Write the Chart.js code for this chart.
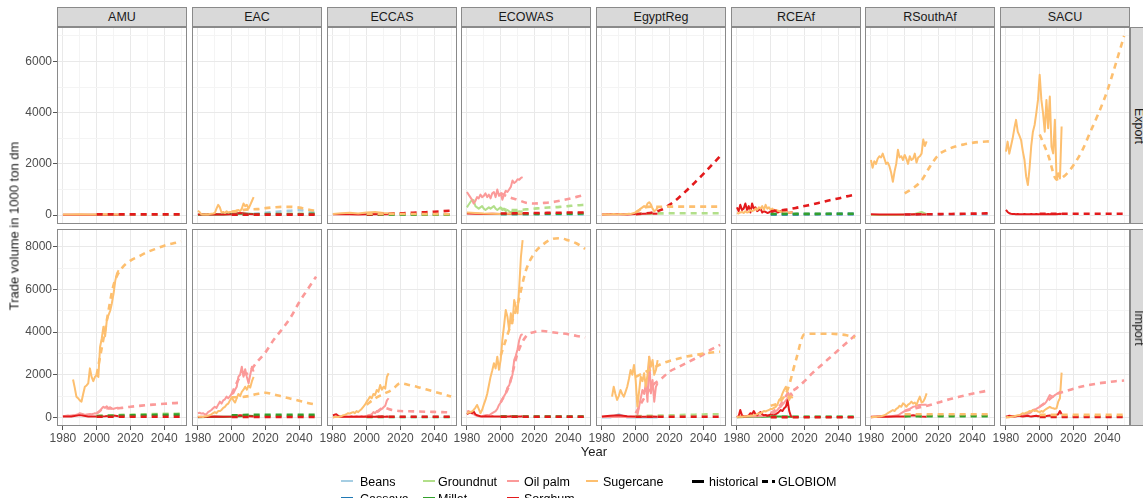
<!DOCTYPE html>
<html><head><meta charset="utf-8">
<script src="https://cdn.jsdelivr.net/npm/chart.js@4.4.0/dist/chart.umd.min.js"></script>
<style>
html,body{margin:0;padding:0;background:#fff;}
body{width:1143px;height:498px;overflow:hidden;position:relative;font-family:"Liberation Sans",Arial,sans-serif;}
canvas{position:absolute;}
.strip{position:absolute;background:#d9d9d9;border:1px solid #8a8a8a;box-sizing:border-box;color:#1a1a1a;font-size:12.5px;text-align:center;line-height:18px;}
.rstrip{position:absolute;background:#d9d9d9;border:1px solid #8a8a8a;box-sizing:border-box;}
.rlab{position:absolute;left:calc(50% - 2px);top:50%;transform:translate(-50%,-50%) rotate(90deg);color:#1a1a1a;font-size:12.5px;white-space:nowrap;}
.t{position:absolute;white-space:nowrap;color:#1a1a1a;font-weight:normal;}
.key{position:absolute;height:0;}
.lt{position:absolute;font-size:12.5px;color:#000;white-space:nowrap;transform:translateY(-50%);}
</style></head><body>
<script>
// ---------- categories ----------
const REGIONS = ["AMU","EAC","ECCAS","ECOWAS","EgyptReg","RCEAf","RSouthAf","SACU"];
const FLOWS = ["Export","Import"];
const CROPS = ["Beans","Cassava","Groundnut","Millet","Oil palm","Sorghum","Sugercane"];
const CROP_COLORS = ["#a6cee3","#1f78b4","#b2df8a","#33a02c","#fb9a99","#e31a1c","#fdbf6f"];
// ---------- years ----------
const HY = [1980,1981,1982,1983,1984,1985,1986,1987,1988,1989,1990,1991,1992,1993,1994,1995,1996,1997,1998,1999,2000,2001,2002,2003,2004,2005,2006,2007,2008,2009,2010,2011,2012,2013];
const HS = [1980,1985,1990,1995,2000,2005,2010,2013];
const GY = [2000,2005,2010,2015,2020,2025,2030,2035,2040,2045,2050];
// ---------- tick labels ----------
const X_TICKS = [1980,1990,2000,2010,2020,2030,2040,2050];
const Y_TICKS_EXPORT = [0,1000,2000,3000,4000,5000,6000,7000];
const Y_TICKS_IMPORT = [0,1000,2000,3000,4000,5000,6000,7000,8000];

// ---------- AMU ----------
const AMU_ex_Sug_h = [20,25,30,20,25,30,25,20];
const AMU_ex_Sor_h = [10,10,15,10,10,15,10,10];
const AMU_ex_Gro_g = [10,10,10,10,10,10,10,10,10,10,10];
const AMU_ex_Sor_g = [25,25,25,25,25,25,25,25,25,25,25];
const AMU_im_Oil_h = [60,70,80,90,80,90,100,110,130,150,200,180,150,120,140,150,160,150,170,200,180,250,300,420,500,450,520,430,480,420,400,430,450,460];
const AMU_im_Sug_h = [null,null,null,null,null,null,1780,1400,975,900,800,740,1100,1440,1500,1600,2300,1900,1700,1900,2000,1900,3300,3700,4250,3800,4550,4800,5000,5350,5800,6400,6750,6900];
const AMU_im_Sor_h = [40,50,110,50,40,60,90,60];
const AMU_im_Gro_g = [80,90,100,120,130,140,150,160,170,175,180];
const AMU_im_Mil_g = [60,70,80,90,100,110,115,120,125,130,135];
const AMU_im_Oil_g = [200,430,420,450,500,540,580,610,640,670,690];
const AMU_im_Sor_g = [30,30,30,30,30,30,30,30,30,30,30];
const AMU_im_Sug_g = [2000,4100,6200,7000,7350,7550,7750,7900,8050,8150,8250];
// ---------- EAC ----------
const EAC_ex_Mil_h = [10,20,30,20,40,60,50,40];
const EAC_ex_Sor_h = [20,20,30,20,30,80,40,30];
const EAC_ex_Sug_h = [170,120,30,20,20,30,20,40,50,60,80,250,400,300,100,120,80,150,100,120,130,150,100,180,200,150,250,450,350,400,250,400,550,700];
const EAC_ex_Bea_g = [20,30,40,60,90,120,150,170,190,150,110];
const EAC_ex_Mil_g = [20,25,30,30,35,35,40,40,40,45,45];
const EAC_ex_Sor_g = [15,15,15,15,15,15,15,15,15,15,15];
const EAC_ex_Sug_g = [130,180,220,230,270,300,320,320,290,220,160];
const EAC_im_Mil_h = [10,20,30,30,40,60,80,70];
const EAC_im_Oil_h = [200,220,180,200,150,150,250,300,350,430,500,450,600,740,650,800,850,975,900,1000,1100,1130,1300,1440,1910,2000,2380,1910,2260,1900,1600,2000,2380,2150];
const EAC_im_Sor_h = [20,30,40,30,40,100,60,40];
const EAC_im_Sug_h = [50,30,40,20,50,60,80,100,150,200,250,200,300,300,350,450,500,600,650,800,950,800,700,900,1100,1000,1200,1300,1440,1300,1500,1400,1700,1900];
const EAC_im_Gro_g = [60,70,80,80,80,80,80,80,80,80,80];
const EAC_im_Mil_g = [100,110,120,120,120,120,120,120,120,120,120];
const EAC_im_Oil_g = [1100,1900,2100,2600,3050,3650,4150,4700,5400,6000,6600];
const EAC_im_Sor_g = [20,20,20,20,20,20,20,20,20,20,20];
const EAC_im_Sug_g = [950,950,1000,1100,1160,1080,980,880,780,680,600];
// ---------- ECCAS ----------
const ECCAS_ex_Sor_h = [30,40,30,20,30,40,30,30];
const ECCAS_ex_Sug_h = [40,70,90,60,100,120,80,70];
const ECCAS_ex_Bea_g = [10,10,15,15,20,20,20,25,25,25,25];
const ECCAS_ex_Mil_g = [10,10,10,10,10,10,10,10,10,10,10];
const ECCAS_ex_Sor_g = [20,30,40,60,70,80,100,110,130,150,170];
const ECCAS_ex_Sug_g = [50,50,45,45,40,40,40,35,35,35,30];
const ECCAS_im_Oil_h = [10,20,20,30,20,30,20,30,40,30,30,40,30,40,30,40,50,40,50,60,60,80,100,150,250,200,300,280,350,400,480,550,800,900];
const ECCAS_im_Sor_h = [100,130,150,80,40,30,30,40,30,30,30,40,30,30,40,30,30,40,30,30,40,30,30,40,30,30,40,30,30,40,30,30,40,30];
const ECCAS_im_Sug_h = [0,20,30,20,40,60,100,120,150,200,180,220,250,200,300,250,330,400,500,600,740,850,975,900,1100,1050,1290,1200,1520,1300,1440,1350,1910,2070];
const ECCAS_im_Mil_g = [20,20,20,20,20,20,20,20,20,20,20];
const ECCAS_im_Oil_g = [60,200,450,350,300,290,280,270,260,250,240];
const ECCAS_im_Sor_g = [30,30,30,30,30,30,30,30,30,30,30];
const ECCAS_im_Sug_g = [600,900,1100,1300,1600,1520,1430,1320,1210,1100,980];
// ---------- ECOWAS ----------
const ECOWAS_ex_Gro_h = [300,400,500,600,580,350,300,250,300,350,250,200,250,300,250,300,350,250,200,250,300,200,250,150,200,150,100,150,120,150,130,150,140,150];
const ECOWAS_ex_Oil_h = [900,800,700,600,450,550,700,650,800,700,750,850,700,800,650,850,900,700,1000,750,850,600,800,950,900,1000,1100,1350,1250,1300,1400,1380,1450,1480];
const ECOWAS_ex_Sor_h = [60,50,40,50,40,50,40,50];
const ECOWAS_ex_Sug_h = [100,80,60,50,40,50,60,50];
const ECOWAS_ex_Bea_g = [10,10,10,10,10,10,10,10,10,10,10];
const ECOWAS_ex_Gro_g = [250,200,200,220,250,280,300,320,350,380,400];
const ECOWAS_ex_Mil_g = [40,40,40,45,45,50,50,50,55,55,60];
const ECOWAS_ex_Oil_g = [850,700,600,480,450,470,500,560,630,710,790];
const ECOWAS_ex_Sor_g = [60,60,70,70,80,80,90,90,100,100,100];
const ECOWAS_im_Oil_h = [270,300,250,200,150,100,80,60,50,60,80,100,120,100,150,200,250,300,400,585,700,850,1000,1130,1400,1500,1755,2000,2690,2900,3200,3630,3860,3900];
const ECOWAS_im_Sor_h = [150,200,250,200,280,150,100,80,60,50,50,60,50,40,50,60,50,40,50,50,40,50,60,50,40,50,60,50,40,50,50,40,50,60];
const ECOWAS_im_Sug_h = [200,230,260,280,350,450,585,400,200,350,600,820,1100,1500,1900,2200,2540,2300,2850,2230,2700,3630,4300,5035,4720,4100,4880,4410,5500,5200,4880,6130,7530,8310];
const ECOWAS_im_Gro_g = [30,30,30,30,30,30,30,30,30,30,30];
const ECOWAS_im_Mil_g = [40,40,40,40,40,40,40,40,40,40,40];
const ECOWAS_im_Oil_g = [700,1500,3000,3800,4000,4050,4000,3950,3900,3820,3750];
const ECOWAS_im_Sor_g = [30,30,30,30,30,30,30,30,30,30,30];
const ECOWAS_im_Sug_g = [2900,4100,5300,6900,7700,8100,8350,8400,8300,8150,7900];
// ---------- EgyptReg ----------
const EgyptReg_ex_Sor_h = [20,30,30,20,40,50,60,50];
const EgyptReg_ex_Sug_h = [20,20,30,20,30,20,30,40,30,20,30,40,30,20,30,40,50,40,60,80,100,150,200,250,300,350,300,450,500,420,250,150,200,300];
const EgyptReg_ex_Gro_g = [40,50,60,65,70,70,70,70,70,70,70];
const EgyptReg_ex_Sor_g = [30,60,100,200,400,650,950,1270,1600,1950,2300];
const EgyptReg_ex_Sug_g = [100,300,330,320,330,330,330,330,330,330,330];
const EgyptReg_im_Bea_h = [0,0,150,0,0,0,0,0];
const EgyptReg_im_Oil_h = [20,20,30,20,20,30,20,20,30,20,20,30,20,20,30,20,20,30,20,20,30,100,500,900,1290,1100,1600,740,2850,1130,1755,740,1440,1600];
const EgyptReg_im_Sor_h = [50,80,100,60,40,30,40,30];
const EgyptReg_im_Sug_h = [null,null,null,null,null,null,975,1440,1100,820,1000,1290,1100,975,1200,1440,1800,2225,2000,2460,1750,500,1200,1910,1700,2070,1440,2000,2850,2380,2690,2000,2225,2690];
const EgyptReg_im_Gro_g = [60,70,80,90,100,110,120,130,140,150,150];
const EgyptReg_im_Oil_g = [200,900,1500,1800,2150,2350,2550,2750,2950,3200,3400];
const EgyptReg_im_Sor_g = [30,30,30,30,30,30,30,30,30,30,30];
const EgyptReg_im_Sug_g = [1900,2100,2300,2500,2650,2750,2850,2920,2990,3040,3080];
// ---------- RCEAf ----------
const RCEAf_ex_Sor_h = [300,150,400,200,250,450,200,350,100,450,250,300,150,200,250,100,150,120,80,100,150,100,200,150,100,120,150,100,80,120,100,90,100,110];
const RCEAf_ex_Sug_h = [80,60,100,120,80,150,100,120,200,150,180,250,200,300,250,350,200,400,250,300,200,250,150,200,180,150,120,150,100,120,100,90,100,110];
const RCEAf_ex_Bea_g = [40,40,45,45,50,50,50,50,55,55,55];
const RCEAf_ex_Cas_g = [20,20,25,25,30,30,30,35,35,35,35];
const RCEAf_ex_Mil_g = [40,40,40,45,45,45,50,50,50,50,50];
const RCEAf_ex_Sor_g = [150,180,220,280,350,420,500,580,650,730,800];
const RCEAf_im_Mil_h = [10,20,30,30,40,40,30,30];
const RCEAf_im_Oil_h = [50,40,60,50,40,50,60,50,40,50,60,50,60,70,60,80,70,80,90,100,120,150,200,300,350,450,500,600,700,800,900,1000,1130,1000];
const RCEAf_im_Sor_h = [0,50,350,100,50,40,60,100,200,150,300,150,100,200,250,150,100,120,80,100,150,120,100,150,200,273,350,300,430,500,800,300,50,30];
const RCEAf_im_Sug_h = [20,30,40,30,50,40,60,80,70,90,100,120,150,200,180,250,300,280,320,350,400,400,450,500,600,820,900,1130,1300,1440,1130,820,1000,900];
const RCEAf_im_Gro_g = [20,20,20,20,20,20,20,20,20,20,20];
const RCEAf_im_Mil_g = [30,30,30,30,30,30,30,30,30,30,30];
const RCEAf_im_Oil_g = [200,500,1100,1350,1700,2100,2450,2800,3150,3500,3850];
const RCEAf_im_Sor_g = [10,10,10,10,10,10,10,10,10,10,10];
const RCEAf_im_Sug_g = [550,700,1300,2700,3900,3920,3920,3920,3900,3850,3750];
// ---------- RSouthAf ----------
const RSouthAf_ex_Gro_h = [0,0,0,0,10,20,120,30];
const RSouthAf_ex_Sor_h = [30,20,20,25,20,30,25,20];
const RSouthAf_ex_Sug_h = [2150,1850,2100,2000,2200,2300,2250,2400,2200,2000,2050,1900,1650,1300,1700,2000,2550,2250,2300,2150,2350,2200,2000,2300,2150,2200,2400,2050,2250,2300,2400,2950,2700,2880];
const RSouthAf_ex_Bea_g = [10,10,15,15,15,20,20,20,20,25,25];
const RSouthAf_ex_Sor_g = [20,25,30,30,35,40,45,50,55,60,70];
const RSouthAf_ex_Sug_g = [850,1050,1350,1900,2350,2550,2680,2760,2820,2860,2880];
const RSouthAf_im_Oil_h = [0,10,20,20,30,30,40,40,50,50,50,60,60,70,80,90,100,150,200,250,300,350,380,400,450,500,520,550,570,585,590,600,600,600];
const RSouthAf_im_Sor_h = [30,40,30,40,50,100,40,30];
const RSouthAf_im_Sug_h = [0,20,30,20,40,50,60,80,100,150,200,250,300,350,300,400,450,550,500,660,600,500,600,650,740,650,700,585,800,975,700,740,900,1130];
const RSouthAf_im_Gro_g = [80,80,80,80,80,80,80,80,80,80,80];
const RSouthAf_im_Mil_g = [60,60,60,60,60,60,60,60,60,60,60];
const RSouthAf_im_Oil_g = [300,400,500,580,700,820,920,1020,1110,1190,1270];
const RSouthAf_im_Sug_g = [150,150,150,150,150,150,150,150,150,150,150];
// ---------- SACU ----------
const SACU_ex_Sor_h = [200,120,70,50,40,40,30,40,30,30,30,40,30,30,30,40,30,30,40,30,30,30,40,30,30,40,30,40,30,40,30,40,50,40];
const SACU_ex_Sug_h = [2480,2870,2400,2700,3000,3390,3720,3260,3100,2930,2500,2150,1500,1170,1830,2700,3260,3520,3980,4500,5480,4500,3980,3260,4500,3390,4630,2670,2410,3720,1370,1630,1430,3460];
const SACU_ex_Sor_g = [50,50,50,50,50,50,50,50,50,50,50];
const SACU_ex_Sug_g = [3150,2350,1400,1550,1950,2500,3250,4000,4850,5900,7000];
const SACU_im_Oil_h = [0,10,20,30,40,50,60,70,80,90,100,120,150,180,200,250,350,380,400,450,500,550,600,650,740,900,1050,1000,975,1050,1100,1130,1210,1200];
const SACU_im_Sor_h = [50,60,80,70,60,50,60,70,80,60,50,60,70,80,60,50,60,70,80,60,70,80,60,50,70,80,90,70,80,100,120,150,300,150];
const SACU_im_Sug_h = [0,20,10,30,50,60,80,100,100,150,200,180,220,250,300,280,350,300,320,280,250,300,270,350,400,450,500,450,430,400,430,740,900,2100];
const SACU_im_Gro_g = [40,40,40,40,40,40,40,40,40,40,40];
const SACU_im_Oil_g = [500,800,1100,1220,1350,1450,1530,1600,1650,1700,1730];
const SACU_im_Sor_g = [20,20,20,20,20,20,20,20,20,20,20];
const SACU_im_Sug_g = [120,120,120,120,120,120,120,120,120,120,120];

// registry: region, flow, crop, kind (h = historical, g = GLOBIOM), years, values
const SERIES = [
["AMU","Export","Sugercane","h",HS,AMU_ex_Sug_h],["AMU","Export","Sorghum","h",HS,AMU_ex_Sor_h],
["AMU","Export","Groundnut","g",GY,AMU_ex_Gro_g],["AMU","Export","Sorghum","g",GY,AMU_ex_Sor_g],
["AMU","Import","Oil palm","h",HY,AMU_im_Oil_h],["AMU","Import","Sugercane","h",HY,AMU_im_Sug_h],["AMU","Import","Sorghum","h",HS,AMU_im_Sor_h],
["AMU","Import","Groundnut","g",GY,AMU_im_Gro_g],["AMU","Import","Millet","g",GY,AMU_im_Mil_g],["AMU","Import","Oil palm","g",GY,AMU_im_Oil_g],["AMU","Import","Sorghum","g",GY,AMU_im_Sor_g],["AMU","Import","Sugercane","g",GY,AMU_im_Sug_g],
["EAC","Export","Millet","h",HS,EAC_ex_Mil_h],["EAC","Export","Sorghum","h",HS,EAC_ex_Sor_h],["EAC","Export","Sugercane","h",HY,EAC_ex_Sug_h],
["EAC","Export","Beans","g",GY,EAC_ex_Bea_g],["EAC","Export","Millet","g",GY,EAC_ex_Mil_g],["EAC","Export","Sorghum","g",GY,EAC_ex_Sor_g],["EAC","Export","Sugercane","g",GY,EAC_ex_Sug_g],
["EAC","Import","Millet","h",HS,EAC_im_Mil_h],["EAC","Import","Oil palm","h",HY,EAC_im_Oil_h],["EAC","Import","Sorghum","h",HS,EAC_im_Sor_h],["EAC","Import","Sugercane","h",HY,EAC_im_Sug_h],
["EAC","Import","Groundnut","g",GY,EAC_im_Gro_g],["EAC","Import","Millet","g",GY,EAC_im_Mil_g],["EAC","Import","Oil palm","g",GY,EAC_im_Oil_g],["EAC","Import","Sorghum","g",GY,EAC_im_Sor_g],["EAC","Import","Sugercane","g",GY,EAC_im_Sug_g],
["ECCAS","Export","Sorghum","h",HS,ECCAS_ex_Sor_h],["ECCAS","Export","Sugercane","h",HS,ECCAS_ex_Sug_h],
["ECCAS","Export","Beans","g",GY,ECCAS_ex_Bea_g],["ECCAS","Export","Millet","g",GY,ECCAS_ex_Mil_g],["ECCAS","Export","Sorghum","g",GY,ECCAS_ex_Sor_g],["ECCAS","Export","Sugercane","g",GY,ECCAS_ex_Sug_g],
["ECCAS","Import","Oil palm","h",HY,ECCAS_im_Oil_h],["ECCAS","Import","Sorghum","h",HY,ECCAS_im_Sor_h],["ECCAS","Import","Sugercane","h",HY,ECCAS_im_Sug_h],
["ECCAS","Import","Millet","g",GY,ECCAS_im_Mil_g],["ECCAS","Import","Oil palm","g",GY,ECCAS_im_Oil_g],["ECCAS","Import","Sorghum","g",GY,ECCAS_im_Sor_g],["ECCAS","Import","Sugercane","g",GY,ECCAS_im_Sug_g],
["ECOWAS","Export","Groundnut","h",HY,ECOWAS_ex_Gro_h],["ECOWAS","Export","Oil palm","h",HY,ECOWAS_ex_Oil_h],["ECOWAS","Export","Sorghum","h",HS,ECOWAS_ex_Sor_h],["ECOWAS","Export","Sugercane","h",HS,ECOWAS_ex_Sug_h],
["ECOWAS","Export","Beans","g",GY,ECOWAS_ex_Bea_g],["ECOWAS","Export","Groundnut","g",GY,ECOWAS_ex_Gro_g],["ECOWAS","Export","Millet","g",GY,ECOWAS_ex_Mil_g],["ECOWAS","Export","Oil palm","g",GY,ECOWAS_ex_Oil_g],["ECOWAS","Export","Sorghum","g",GY,ECOWAS_ex_Sor_g],
["ECOWAS","Import","Oil palm","h",HY,ECOWAS_im_Oil_h],["ECOWAS","Import","Sorghum","h",HY,ECOWAS_im_Sor_h],["ECOWAS","Import","Sugercane","h",HY,ECOWAS_im_Sug_h],
["ECOWAS","Import","Groundnut","g",GY,ECOWAS_im_Gro_g],["ECOWAS","Import","Millet","g",GY,ECOWAS_im_Mil_g],["ECOWAS","Import","Oil palm","g",GY,ECOWAS_im_Oil_g],["ECOWAS","Import","Sorghum","g",GY,ECOWAS_im_Sor_g],["ECOWAS","Import","Sugercane","g",GY,ECOWAS_im_Sug_g],
["EgyptReg","Export","Sorghum","h",HS,EgyptReg_ex_Sor_h],["EgyptReg","Export","Sugercane","h",HY,EgyptReg_ex_Sug_h],
["EgyptReg","Export","Groundnut","g",GY,EgyptReg_ex_Gro_g],["EgyptReg","Export","Sorghum","g",GY,EgyptReg_ex_Sor_g],["EgyptReg","Export","Sugercane","g",GY,EgyptReg_ex_Sug_g],
["EgyptReg","Import","Beans","h",HS,EgyptReg_im_Bea_h],["EgyptReg","Import","Oil palm","h",HY,EgyptReg_im_Oil_h],["EgyptReg","Import","Sorghum","h",HS,EgyptReg_im_Sor_h],["EgyptReg","Import","Sugercane","h",HY,EgyptReg_im_Sug_h],
["EgyptReg","Import","Groundnut","g",GY,EgyptReg_im_Gro_g],["EgyptReg","Import","Oil palm","g",GY,EgyptReg_im_Oil_g],["EgyptReg","Import","Sorghum","g",GY,EgyptReg_im_Sor_g],["EgyptReg","Import","Sugercane","g",GY,EgyptReg_im_Sug_g],
["RCEAf","Export","Sorghum","h",HY,RCEAf_ex_Sor_h],["RCEAf","Export","Sugercane","h",HY,RCEAf_ex_Sug_h],
["RCEAf","Export","Beans","g",GY,RCEAf_ex_Bea_g],["RCEAf","Export","Cassava","g",GY,RCEAf_ex_Cas_g],["RCEAf","Export","Millet","g",GY,RCEAf_ex_Mil_g],["RCEAf","Export","Sorghum","g",GY,RCEAf_ex_Sor_g],
["RCEAf","Import","Millet","h",HS,RCEAf_im_Mil_h],["RCEAf","Import","Oil palm","h",HY,RCEAf_im_Oil_h],["RCEAf","Import","Sorghum","h",HY,RCEAf_im_Sor_h],["RCEAf","Import","Sugercane","h",HY,RCEAf_im_Sug_h],
["RCEAf","Import","Groundnut","g",GY,RCEAf_im_Gro_g],["RCEAf","Import","Millet","g",GY,RCEAf_im_Mil_g],["RCEAf","Import","Oil palm","g",GY,RCEAf_im_Oil_g],["RCEAf","Import","Sorghum","g",GY,RCEAf_im_Sor_g],["RCEAf","Import","Sugercane","g",GY,RCEAf_im_Sug_g],
["RSouthAf","Export","Groundnut","h",HS,RSouthAf_ex_Gro_h],["RSouthAf","Export","Sorghum","h",HS,RSouthAf_ex_Sor_h],["RSouthAf","Export","Sugercane","h",HY,RSouthAf_ex_Sug_h],
["RSouthAf","Export","Beans","g",GY,RSouthAf_ex_Bea_g],["RSouthAf","Export","Sorghum","g",GY,RSouthAf_ex_Sor_g],["RSouthAf","Export","Sugercane","g",GY,RSouthAf_ex_Sug_g],
["RSouthAf","Import","Oil palm","h",HY,RSouthAf_im_Oil_h],["RSouthAf","Import","Sorghum","h",HS,RSouthAf_im_Sor_h],["RSouthAf","Import","Sugercane","h",HY,RSouthAf_im_Sug_h],
["RSouthAf","Import","Groundnut","g",GY,RSouthAf_im_Gro_g],["RSouthAf","Import","Millet","g",GY,RSouthAf_im_Mil_g],["RSouthAf","Import","Oil palm","g",GY,RSouthAf_im_Oil_g],["RSouthAf","Import","Sugercane","g",GY,RSouthAf_im_Sug_g],
["SACU","Export","Sorghum","h",HY,SACU_ex_Sor_h],["SACU","Export","Sugercane","h",HY,SACU_ex_Sug_h],
["SACU","Export","Sorghum","g",GY,SACU_ex_Sor_g],["SACU","Export","Sugercane","g",GY,SACU_ex_Sug_g],
["SACU","Import","Oil palm","h",HY,SACU_im_Oil_h],["SACU","Import","Sorghum","h",HY,SACU_im_Sor_h],["SACU","Import","Sugercane","h",HY,SACU_im_Sug_h],
["SACU","Import","Groundnut","g",GY,SACU_im_Gro_g],["SACU","Import","Oil palm","g",GY,SACU_im_Oil_g],["SACU","Import","Sorghum","g",GY,SACU_im_Sor_g],["SACU","Import","Sugercane","g",GY,SACU_im_Sug_g]
];

// ---------- layout ----------
const PANEL_LEFT = REGIONS.map((r,i)=>Math.round(57.3 + 134.7*i));
const PANEL_W = 130;
const ROW_TOP = [27, 229];
const PANEL_H = 197;
const Y_RANGE = [[-350,7350],[-400,8830]];
const FONT = "'Liberation Sans', Arial, sans-serif";
const MAJOR = '#e9e9e9', MINOR = '#f4f4f4';

const borderPlugin = { id:'pborder', afterDraw(chart){
  const {ctx, chartArea:a} = chart; ctx.save();
  ctx.strokeStyle = '#8a8a8a'; ctx.lineWidth = 1;
  ctx.strokeRect(Math.round(a.left)+0.5, Math.round(a.top)+0.5, Math.round(a.right-a.left)-1, Math.round(a.bottom-a.top)-1);
  ctx.restore(); } };

function datasetsFor(region, flow){
  const rows = SERIES.filter(s=>s[0]===region && s[1]===flow).slice();
  rows.sort((a,b)=>{ if(a[3]!==b[3]) return a[3]==='h'?-1:1; return CROPS.indexOf(a[2])-CROPS.indexOf(b[2]); });
  return rows.map((s,i)=>{
    const dashed = s[3]==='g';
    return {
      data: s[4].map((yr,j)=>({x:yr, y:s[5][j]})).filter(p=>p.y!==null),
      borderColor: CROP_COLORS[CROPS.indexOf(s[2])],
      borderWidth: dashed ? 2.6 : 2,
      borderDash: dashed ? [6,5] : [],
      borderJoinStyle: 'round',
      pointRadius: 0, fill: false, tension: 0,
      cubicInterpolationMode: dashed ? 'monotone' : 'default',
      order: -i
    };
  });
}

REGIONS.forEach((region, ci)=>{
  const st = document.createElement('div'); st.className='strip';
  st.style.left = PANEL_LEFT[ci]+'px'; st.style.top='7px'; st.style.width=PANEL_W+'px'; st.style.height='20px';
  st.textContent = region; document.body.appendChild(st);
  FLOWS.forEach((flow, ri)=>{
    const padL = ci===0 ? 0 : 10, yW = ci===0 ? 57 : 0, xH = ri===1 ? 20 : 0;
    const cv = document.createElement('canvas');
    const w = padL + yW + PANEL_W + 10, h = PANEL_H + xH;
    cv.width = w; cv.height = h; cv.style.width = w+'px'; cv.style.height = h+'px';
    cv.style.left = (PANEL_LEFT[ci] - padL - yW)+'px'; cv.style.top = ROW_TOP[ri]+'px';
    document.body.appendChild(cv);
    const yt = ri===0 ? Y_TICKS_EXPORT : Y_TICKS_IMPORT;
    new Chart(cv, {
      type:'line',
      data:{datasets: datasetsFor(region, flow)},
      options:{
        responsive:false, animation:false, devicePixelRatio:1, events:[],
        layout:{autoPadding:false, padding:{left:padL, right:10, top:0, bottom:0}},
        plugins:{legend:{display:false}, tooltip:{enabled:false}},
        scales:{
          x:{type:'linear', min:1976.5, max:2053.5,
            afterBuildTicks: s=>{ s.ticks = X_TICKS.map(v=>({value:v})); },
            afterFit: s=>{ s.height = xH; s.paddingLeft = 0; s.paddingRight = 0; },
            border:{display:false},
            grid:{color: c=> (c.tick && (c.tick.value-1980)%20===0) ? MAJOR : MINOR, lineWidth:1,
                  drawTicks: ri===1, tickLength:4, tickWidth:1,
                  tickColor: c=> (c.tick && (c.tick.value-1980)%20===0) ? '#555' : 'rgba(0,0,0,0)'},
            ticks:{display: ri===1, autoSkip:false, maxRotation:0, minRotation:0, padding:1, color:'#4d4d4d',
                   font:{family:FONT, size:12}, callback: v => ((v-1980)%20===0 ? String(v) : '')}
          },
          y:{type:'linear', min:Y_RANGE[ri][0], max:Y_RANGE[ri][1],
            afterBuildTicks: s=>{ s.ticks = yt.map(v=>({value:v})); },
            afterFit: s=>{ s.width = yW; s.paddingTop = 0; s.paddingBottom = 0; },
            border:{display:false},
            grid:{color: c=> (c.tick && c.tick.value%2000===0) ? MAJOR : MINOR, lineWidth:1,
                  drawTicks: ci===0, tickLength:4, tickWidth:1,
                  tickColor: c=> (c.tick && c.tick.value%2000===0) ? '#555' : 'rgba(0,0,0,0)'},
            ticks:{display: ci===0, padding:1, color:'#4d4d4d', font:{family:FONT, size:12},
                   callback: v => (v%2000===0 ? String(v) : '')}
          }
        }
      },
      plugins:[borderPlugin]
    });
  });
});

// right strips
FLOWS.forEach((flow, ri)=>{
  const d = document.createElement('div'); d.className='rstrip';
  d.style.left='1130px'; d.style.top=ROW_TOP[ri]+'px'; d.style.width='21px'; d.style.height=PANEL_H+'px';
  const l = document.createElement('div'); l.className='rlab'; l.textContent = flow; d.appendChild(l);
  document.body.appendChild(d);
});

// axis titles
const ytl = document.createElement('div'); ytl.className='t'; ytl.textContent='Trade volume in 1000 ton dm';
ytl.style.fontSize='13px'; ytl.style.left='14px'; ytl.style.top='226px'; ytl.style.transform='translate(-50%,-50%) rotate(-90deg)';
document.body.appendChild(ytl);
const xtl = document.createElement('div'); xtl.className='t'; xtl.textContent='Year';
xtl.style.fontSize='13px'; xtl.style.left='594px'; xtl.style.top='451px'; xtl.style.transform='translate(-50%,-50%)';
document.body.appendChild(xtl);

// legend
const LEG_CROP_POS = [[341,360,481.5],[341,360,498.5],[423,438,481.5],[423,438,498.5],[507,524,481.5],[507,524,498.5],[586,603,481.5]];
CROPS.forEach((c,i)=>{
  const [kx, tx, ty] = LEG_CROP_POS[i];
  const k = document.createElement('div'); k.className='key';
  k.style.left=kx+'px'; k.style.top=(ty-1.3)+'px'; k.style.width='12px'; k.style.borderTop='2.6px solid '+CROP_COLORS[i];
  document.body.appendChild(k);
  const t = document.createElement('div'); t.className='lt'; t.textContent=c; t.style.left=tx+'px'; t.style.top=ty+'px';
  document.body.appendChild(t);
});
const LEG_TYPES = [["historical",692,709],["GLOBIOM",762,778]];
LEG_TYPES.forEach((lt,i)=>{
  const ty = 481.5;
  if(i===0){
    const k = document.createElement('div'); k.className='key';
    k.style.left=lt[1]+'px'; k.style.top=(ty-1.5)+'px'; k.style.width='12px'; k.style.borderTop='3px solid #000';
    document.body.appendChild(k);
  } else {
    const k1 = document.createElement('div'); k1.className='key';
    k1.style.left=lt[1]+'px'; k1.style.top=(ty-1.5)+'px'; k1.style.width='6px'; k1.style.borderTop='3px solid #000';
    const k2 = document.createElement('div'); k2.className='key';
    k2.style.left=(lt[1]+10)+'px'; k2.style.top=(ty-1.5)+'px'; k2.style.width='3px'; k2.style.borderTop='3px solid #000';
    document.body.appendChild(k1); document.body.appendChild(k2);
  }
  const t = document.createElement('div'); t.className='lt'; t.textContent=lt[0]; t.style.left=lt[2]+'px'; t.style.top=ty+'px';
  document.body.appendChild(t);
});
</script>
</body></html>
